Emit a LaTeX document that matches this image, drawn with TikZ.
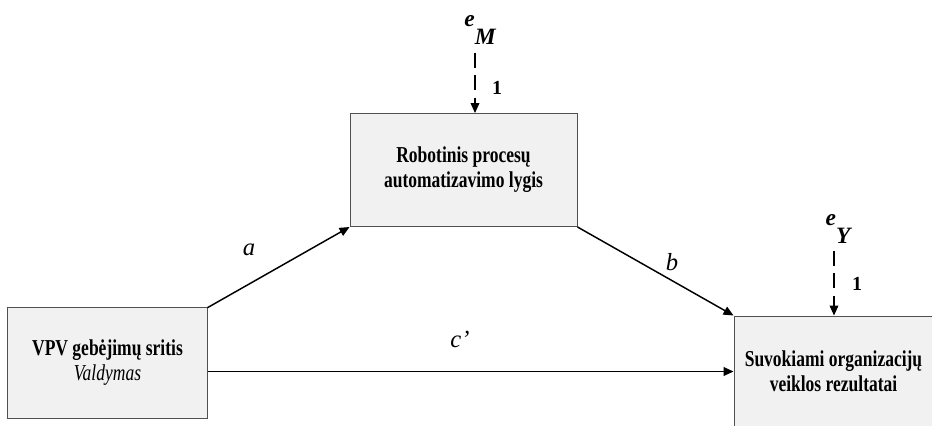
\documentclass[tikz,border=0pt]{standalone}
\usepackage{fontspec}
\setmainfont{Liberation Serif}
\newfontfamily\boxfont[FakeStretch=0.77]{Liberation Serif}
\usetikzlibrary{positioning, arrows.meta}
\definecolor{boxfill}{HTML}{F1F1F1}
\definecolor{boxline}{HTML}{505050}
\tikzset{
x=0.03cm, y=-0.03cm, % one unit per pixel, y pointing down
>={Triangle[length=8.5pt, width=7.5pt]}, % solid triangular heads
var/.style={draw=boxline, line width=0.85pt, fill=boxfill, align=center,
  font=\boxfont\bfseries\fontsize{19.4}{21.5}\selectfont,
  inner sep=0pt}, % the three variable boxes
path/.style={->, line width=1.25pt}, % regression paths
err/.style={->, line width=0.9pt, dash pattern=on 13pt off 6pt}, % error terms
coef/.style={font=\itshape\fontsize{21}{24}\selectfont}, % path labels
one/.style={font=\bfseries\fontsize{17}{19}\selectfont}, % fixed loadings
ename/.style={font=\bfseries\itshape\fontsize{20}{22}\selectfont, inner sep=0pt}
}

\begin{document}
\begin{tikzpicture}
    \useasboundingbox (0,0) rectangle (932,426);
    \clip (0,0) rectangle (932,426);
    \node[var, minimum width=5.97cm, minimum height=3.33cm] (vpv) at (107.5,362.5)
        {VPV gebėjimų sritis\\ {\mdseries\itshape Valdymas}};
    \node[var, minimum width=6.81cm, minimum height=3.39cm] (rpa) at (463.5,170)
        {Robotinis procesų\\ automatizavimo lygis};
    \node[var, minimum width=5.97cm, minimum height=3.33cm] (rez) at (833.5,371.5)
        {Suvokiami organizacijų\\ veiklos rezultatai};

    % error terms above the mediator and the outcome
    \node[ename] (eM) at (480,30) {e\raisebox{-0.8em}{M}};
    \node[ename] (eY) at (838,229) {e\raisebox{-0.8em}{Y}};
    \coordinate (eMtail) at (475,53);
    \coordinate (eYtail) at (834,251);
    \draw[err] (eMtail) -- (eMtail |- rpa.north);
    \draw[err] (eYtail) -- (eYtail |- rez.north);
    \node[one] (oneM) at (497,88) {1};
    \node[one] (oneY) at (857,284) {1};

    % paths
    \draw[path] ([yshift=-1pt]vpv.north east) -- (rpa.south west);
    \draw[path] (rpa.south east) -- (rez.north west);
    \draw[path] (vpv.east |- rez.west) -- (rez.west);
    \node[coef] (a) at (249,250) {a};
    \node[coef] (b) at (672,262) {b};
    \node[coef] (c) at (460,339) {c’};
\end{tikzpicture}
\end{document}
